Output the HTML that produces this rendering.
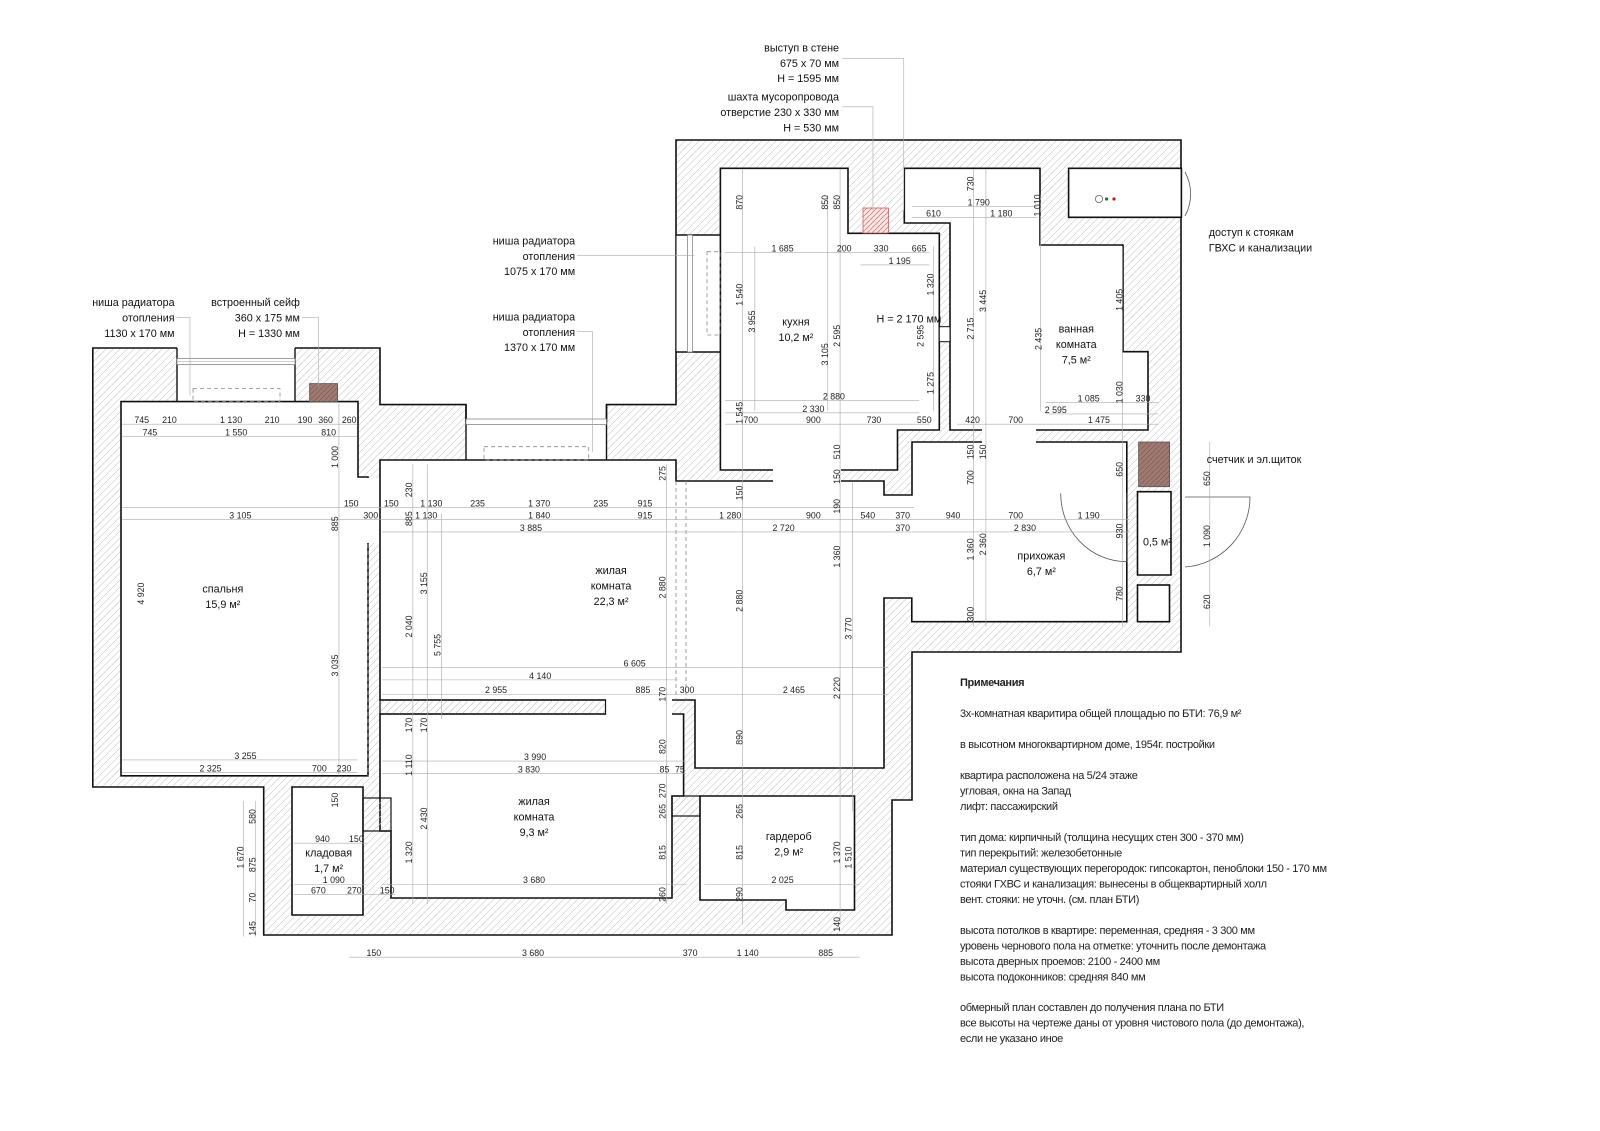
<!DOCTYPE html>
<html><head><meta charset="utf-8"><style>
html,body{margin:0;padding:0;background:#fff}
svg{display:block}
text{font-family:"Liberation Sans",sans-serif;fill:#222}
.d{font-size:8.6px;text-anchor:middle;fill:#333}
.r{font-size:10.5px;text-anchor:middle;fill:#111}
.n{font-size:11px;fill:#111;letter-spacing:-0.35px}
.l{font-size:10.5px;fill:#111;text-anchor:end}
.dl{stroke:#aaa;stroke-width:0.6;fill:none}
</style></head><body>
<svg width="1600" height="1131" viewBox="0 0 1600 1131" xmlns="http://www.w3.org/2000/svg">
<defs>
<pattern id="h" width="7" height="7" patternUnits="userSpaceOnUse">
<path d="M-1,8 L8,-1 M-1,1 L1,-1 M6,8 L8,6" stroke="#c8c8c8" stroke-width="0.6"/>
</pattern>
<pattern id="hr" width="5" height="5" patternUnits="userSpaceOnUse">
<rect width="5" height="5" fill="#f6e6e6"/>
<path d="M-1,6 L6,-1" stroke="#d46a6a" stroke-width="0.7"/>
</pattern>
<pattern id="hb" width="5" height="5" patternUnits="userSpaceOnUse">
<rect width="5" height="5" fill="#a07a72"/>
<path d="M-1,6 L6,-1" stroke="#7a5a52" stroke-width="0.7"/>
</pattern>
</defs>

<!-- outer walls -->
<polygon points="92.8,348 380,348 380,404.6 466,404.6 466,421 606.5,421 606.5,404.6 676,404.6 676,140 1181,140 1181,652 912,652 912,800 892,800 892,935 263.7,935 263.7,787 92.8,787" fill="url(#h)" stroke="#111" stroke-width="1.6"/>

<!-- window openings -->
<rect x="177" y="347" width="118" height="56" fill="#fff"/>
<line x1="177" y1="348" x2="177" y2="402" stroke="#111" stroke-width="1.4"/>
<line x1="295" y1="348" x2="295" y2="402" stroke="#111" stroke-width="1.4"/>
<rect x="177" y="358.5" width="118" height="6" fill="#fff" stroke="#777" stroke-width="0.7"/>
<line x1="177" y1="361.5" x2="295" y2="361.5" stroke="#999" stroke-width="0.5"/>
<rect x="466" y="420" width="140.5" height="41" fill="#fff"/>
<line x1="466" y1="404.6" x2="466" y2="460" stroke="#111" stroke-width="1.4"/>
<line x1="606.5" y1="404.6" x2="606.5" y2="460" stroke="#111" stroke-width="1.4"/>
<rect x="466" y="419" width="140.5" height="5.5" fill="#fff" stroke="#777" stroke-width="0.7"/>
<rect x="676.5" y="235" width="44" height="117" fill="#fff"/>
<line x1="676" y1="235" x2="720" y2="235" stroke="#111" stroke-width="1.4"/>
<line x1="676" y1="352" x2="720" y2="352" stroke="#111" stroke-width="1.4"/>
<rect x="687.5" y="235" width="5" height="117" fill="#fff" stroke="#777" stroke-width="0.7"/>

<!-- rooms -->
<g fill="#fff" stroke="#111" stroke-width="1.6">
<polygon points="121,401.6 177,401.6 177,401.6 295,401.6 358,401.6 358,477 368,477 368,544 368,544 368,775.8 121,775.8"/>
<polygon points="380,460 676,460 676,481 884,481 884,495 912,495 912,442 1126.8,442 1126.8,621.7 911.8,621.7 911.8,598 884,598 884,768 695,768 695,700 380,700"/>
<polygon points="380,714 683.6,714 683.6,796 672,796 672,898 391,898 391,831 380,831"/>
<polygon points="292,787 363,787 363,897 363,915 292,915"/>
<polygon points="700,796 854.5,796 854.5,910 786,910 786,900 700,900"/>
<polygon points="720.4,168.3 848,168.3 848,233.3 939.3,233.3 939.3,430 897.5,430 897.5,470 720.4,470"/>
<polygon points="904.3,168.3 1040,168.3 1040,245 1123,245 1123,351.7 1148,351.7 1148,430 950,430 950,223 904.3,223"/>
<polygon points="1068.6,168.3 1181.4,168.3 1181.4,217.3 1068.6,217.3"/>
<polygon points="1137.5,491.7 1171,491.7 1171,575 1137.5,575"/>
<rect x="1137.5" y="585" width="32" height="36.7"/>
</g>
<!-- fixups: openings -->
<rect x="359" y="478" width="20" height="65" fill="#fff"/>
<rect x="773" y="469" width="68" height="13" fill="#fff"/>
<rect x="982" y="429" width="54" height="14" fill="#fff"/>
<rect x="885" y="496" width="26" height="101" fill="#fff"/>
<rect x="606" y="699" width="66" height="16" fill="#fff"/>
<rect x="380" y="700" width="225.5" height="14" fill="url(#h)" stroke="#111" stroke-width="1.2"/>
<rect x="363" y="798" width="28" height="33" fill="url(#h)" stroke="#111" stroke-width="1.2"/>
<rect x="672" y="796" width="28" height="20" fill="url(#h)" stroke="#111" stroke-width="1.2"/>
<rect x="939.3" y="326.7" width="10.7" height="15" fill="#fff" stroke="#111" stroke-width="1"/>
<rect x="863" y="208" width="25.6" height="25" fill="url(#hr)" stroke="#c66" stroke-width="0.8"/>
<rect x="309.6" y="383.6" width="28" height="18" fill="url(#hb)" stroke="#555" stroke-width="0.8"/>
<rect x="1138.6" y="442" width="31" height="44.7" fill="url(#hb)" stroke="#555" stroke-width="0.8"/>

<!-- dashed radiator niches -->
<g fill="none" stroke="#888" stroke-width="0.8" stroke-dasharray="4,3">
<rect x="193" y="388.6" width="87" height="13"/>
<rect x="484" y="446.7" width="104.7" height="13.3"/>
<rect x="707" y="251.7" width="13" height="83.3"/>
<line x1="368" y1="544" x2="368" y2="776"/>
<line x1="676" y1="481" x2="676" y2="700"/>
<line x1="686" y1="481" x2="686" y2="700"/>
</g>
<!-- fixtures -->
<circle cx="1099" cy="199" r="3.6" fill="#fff" stroke="#666" stroke-width="0.8"/>
<circle cx="1106.6" cy="199" r="1.6" fill="#2a6a3a"/>
<circle cx="1114" cy="199" r="1.6" fill="#b02020"/>
<g fill="none" stroke="#555" stroke-width="0.8">
<path d="M1060.7,493.3 A66,68 0 0 0 1126.8,561.7"/>
<path d="M1185,497 L1250,497 A70,70 0 0 1 1185,567"/>
<path d="M1185,172 A46,46 0 0 1 1185,216"/>
<line x1="1126.8" y1="493" x2="1126.8" y2="562"/>
</g>

<!-- annotations in perceived coords -->
<g transform="scale(1.027)">
<g class="dl">
<path d="M119,413 H348 M119,425 H348 M119,494 H890 M119,506 H890 M372,518 H660 M660,518 H865 M372,650 H865 M372,662 H660 M372,676 H865 M119,740 H348 M119,752 H348 M372,741 H668 M372,753 H668 M372,861 H668 M686,861 H837 M286,821 H357 M286,861 H357 M286,871 H385 M340,932 H837 M706,246 H905 M838,258 H905 M706,390 H895 M706,402 H895 M706,413 H905 M888,201 H1010 M888,212 H1010 M1018,392 H1128 M1018,403 H1128 M932,413 H1128 M865,506 H1100 M865,518 H1100"/>
<path d="M330,393 V755 M402,452 V880 M416,452 V880 M430,500 V700 M649,452 V880 M723,470 V900 M723,165 V470 M735,240 V400 M818,165 V900 M806,190 V400 M830,470 V790 M909,240 V400 M948,165 V610 M960,165 V610 M1013,190 V400 M1093,240 V610 M1178,430 V610 M249,780 V912 M237,780 V912"/>
<path d="M820,57 H880 V205 M820,104 H850 V205 M562,249 H676 M562,323 H577 V440 M172,309 H185 V385 M294,309 H310 V377"/>
</g>

<text class="l" x="817" y="50">выступ в стене</text>
<text class="l" x="817" y="65">675 x 70 мм</text>
<text class="l" x="817" y="80">H = 1595 мм</text>
<text class="l" x="817" y="98">шахта мусоропровода</text>
<text class="l" x="817" y="113">отверстие 230 x 330 мм</text>
<text class="l" x="817" y="128">H = 530 мм</text>
<text class="l" x="560" y="238">ниша радиатора</text>
<text class="l" x="560" y="253">отопления</text>
<text class="l" x="560" y="268">1075 x 170 мм</text>
<text class="l" x="560" y="312">ниша радиатора</text>
<text class="l" x="560" y="327">отопления</text>
<text class="l" x="560" y="342">1370 x 170 мм</text>
<text class="l" x="170" y="298">ниша радиатора</text>
<text class="l" x="170" y="313">отопления</text>
<text class="l" x="170" y="328">1130 x 170 мм</text>
<text class="l" x="292" y="298">встроенный сейф</text>
<text class="l" x="292" y="313">360 x 175 мм</text>
<text class="l" x="292" y="328">H = 1330 мм</text>
<text class="l" x="1177" y="230" style="text-anchor:start">доступ к стоякам</text>
<text class="l" x="1177" y="245" style="text-anchor:start">ГВХС и канализации</text>
<text class="l" x="1175" y="451" style="text-anchor:start">счетчик и эл.щиток</text>

<text class="r" x="217" y="577">спальня</text><text class="r" x="217" y="592">15,9 м²</text>
<text class="r" x="595" y="559">жилая</text><text class="r" x="595" y="574">комната</text><text class="r" x="595" y="589">22,3 м²</text>
<text class="r" x="775" y="317">кухня</text><text class="r" x="775" y="332">10,2 м²</text>
<text class="r" x="885" y="314">H = 2 170 мм</text>
<text class="r" x="1048" y="324">ванная</text><text class="r" x="1048" y="339">комната</text><text class="r" x="1048" y="354">7,5 м²</text>
<text class="r" x="1014" y="545">прихожая</text><text class="r" x="1014" y="560">6,7 м²</text>
<text class="r" x="1127" y="531">0,5 м²</text>
<text class="r" x="520" y="784">жилая</text><text class="r" x="520" y="799">комната</text><text class="r" x="520" y="814">9,3 м²</text>
<text class="r" x="320" y="834">кладовая</text><text class="r" x="320" y="849">1,7 м²</text>
<text class="r" x="768" y="818">гардероб</text><text class="r" x="768" y="833">2,9 м²</text>

<g class="d">
<text x="138" y="412">745</text><text x="165" y="412">210</text><text x="225" y="412">1 130</text><text x="265" y="412">210</text><text x="297" y="412">190</text><text x="317" y="412">360</text><text x="340" y="412">260</text>
<text x="146" y="424">745</text><text x="230" y="424">1 550</text><text x="320" y="424">810</text>
<text x="342" y="493">150</text><text x="381" y="493">150</text><text x="234" y="505">3 105</text><text x="361" y="505">300</text>
<text x="239" y="739">3 255</text><text x="205" y="751">2 325</text><text x="311" y="751">700</text><text x="335" y="751">230</text>
<text x="420" y="493">1 130</text><text x="465" y="493">235</text><text x="525" y="493">1 370</text><text x="585" y="493">235</text><text x="628" y="493">915</text>
<text x="415" y="505">1 130</text><text x="525" y="505">1 840</text><text x="628" y="505">915</text><text x="517" y="517">3 885</text>
<text x="618" y="649">6 605</text><text x="526" y="661">4 140</text><text x="483" y="675">2 955</text><text x="626" y="675">885</text><text x="669" y="675">300</text>
<text x="711" y="505">1 280</text><text x="792" y="505">900</text><text x="845" y="505">540</text><text x="763" y="517">2 720</text><text x="773" y="675">2 465</text>
<text x="762" y="245">1 685</text><text x="822" y="245">200</text><text x="858" y="245">330</text><text x="895" y="245">665</text><text x="876" y="257">1 195</text>
<text x="812" y="389">2 880</text><text x="792" y="401">2 330</text><text x="731" y="412">700</text><text x="792" y="412">900</text><text x="851" y="412">730</text><text x="900" y="412">550</text>
<text x="953" y="200">1 790</text><text x="909" y="211">610</text><text x="975" y="211">1 180</text>
<text x="1060" y="391">1 085</text><text x="1113" y="391">330</text><text x="1028" y="402">2 595</text><text x="947" y="412">420</text><text x="989" y="412">700</text><text x="1070" y="412">1 475</text>
<text x="879" y="505">370</text><text x="879" y="517">370</text><text x="928" y="505">940</text><text x="989" y="505">700</text><text x="1060" y="505">1 190</text><text x="998" y="517">2 830</text>
<text x="521" y="740">3 990</text><text x="515" y="752">3 830</text><text x="647" y="752">85</text><text x="662" y="752">75</text><text x="520" y="860">3 680</text>
<text x="314" y="820">940</text><text x="347" y="820">150</text><text x="325" y="860">1 090</text><text x="310" y="870">670</text><text x="345" y="870">270</text><text x="377" y="870">150</text>
<text x="762" y="860">2 025</text>
<text x="364" y="931">150</text><text x="519" y="931">3 680</text><text x="672" y="931">370</text><text x="728" y="931">1 140</text><text x="804" y="931">885</text>
</g>
<g class="d">
<text transform="translate(329,445) rotate(-90)">1 000</text>
<text transform="translate(329,510) rotate(-90)">885</text>
<text transform="translate(140,578) rotate(-90)">4 920</text>
<text transform="translate(329,648) rotate(-90)">3 035</text>
<text transform="translate(401,477) rotate(-90)">230</text>
<text transform="translate(401,505) rotate(-90)">885</text>
<text transform="translate(416,568) rotate(-90)">3 155</text>
<text transform="translate(401,610) rotate(-90)">2 040</text>
<text transform="translate(429,628) rotate(-90)">5 755</text>
<text transform="translate(648,461) rotate(-90)">275</text>
<text transform="translate(648,572) rotate(-90)">2 880</text>
<text transform="translate(648,676) rotate(-90)">170</text>
<text transform="translate(723,480) rotate(-90)">150</text>
<text transform="translate(723,585) rotate(-90)">2 880</text>
<text transform="translate(818,493) rotate(-90)">190</text>
<text transform="translate(818,542) rotate(-90)">1 360</text>
<text transform="translate(829,612) rotate(-90)">3 770</text>
<text transform="translate(818,670) rotate(-90)">2 220</text>
<text transform="translate(723,718) rotate(-90)">890</text>
<text transform="translate(723,197) rotate(-90)">870</text>
<text transform="translate(806,197) rotate(-90)">850</text>
<text transform="translate(818,197) rotate(-90)">850</text>
<text transform="translate(909,277) rotate(-90)">1 320</text>
<text transform="translate(723,287) rotate(-90)">1 540</text>
<text transform="translate(735,313) rotate(-90)">3 955</text>
<text transform="translate(818,327) rotate(-90)">2 595</text>
<text transform="translate(806,345) rotate(-90)">3 105</text>
<text transform="translate(899,327) rotate(-90)">2 595</text>
<text transform="translate(909,373) rotate(-90)">1 275</text>
<text transform="translate(723,402) rotate(-90)">1 545</text>
<text transform="translate(818,440) rotate(-90)">510</text>
<text transform="translate(818,464) rotate(-90)">150</text>
<text transform="translate(948,179) rotate(-90)">730</text>
<text transform="translate(1013,200) rotate(-90)">1 010</text>
<text transform="translate(960,293) rotate(-90)">3 445</text>
<text transform="translate(948,320) rotate(-90)">2 715</text>
<text transform="translate(1014,330) rotate(-90)">2 435</text>
<text transform="translate(1093,292) rotate(-90)">1 405</text>
<text transform="translate(1093,382) rotate(-90)">1 030</text>
<text transform="translate(948,440) rotate(-90)">150</text>
<text transform="translate(960,440) rotate(-90)">150</text>
<text transform="translate(948,465) rotate(-90)">700</text>
<text transform="translate(1093,457) rotate(-90)">650</text>
<text transform="translate(1093,517) rotate(-90)">930</text>
<text transform="translate(948,535) rotate(-90)">1 360</text>
<text transform="translate(960,530) rotate(-90)">2 360</text>
<text transform="translate(948,598) rotate(-90)">300</text>
<text transform="translate(1093,578) rotate(-90)">780</text>
<text transform="translate(1178,466) rotate(-90)">650</text>
<text transform="translate(1178,522) rotate(-90)">1 090</text>
<text transform="translate(1178,586) rotate(-90)">620</text>
<text transform="translate(401,706) rotate(-90)">170</text>
<text transform="translate(416,706) rotate(-90)">170</text>
<text transform="translate(648,727) rotate(-90)">820</text>
<text transform="translate(401,745) rotate(-90)">1 110</text>
<text transform="translate(648,770) rotate(-90)">270</text>
<text transform="translate(648,790) rotate(-90)">265</text>
<text transform="translate(416,797) rotate(-90)">2 430</text>
<text transform="translate(401,830) rotate(-90)">1 320</text>
<text transform="translate(648,830) rotate(-90)">815</text>
<text transform="translate(648,871) rotate(-90)">260</text>
<text transform="translate(329,779) rotate(-90)">150</text>
<text transform="translate(249,795) rotate(-90)">580</text>
<text transform="translate(237,835) rotate(-90)">1 670</text>
<text transform="translate(249,842) rotate(-90)">875</text>
<text transform="translate(249,874) rotate(-90)">70</text>
<text transform="translate(249,904) rotate(-90)">145</text>
<text transform="translate(723,790) rotate(-90)">265</text>
<text transform="translate(723,830) rotate(-90)">815</text>
<text transform="translate(818,830) rotate(-90)">1 370</text>
<text transform="translate(829,835) rotate(-90)">1 510</text>
<text transform="translate(723,871) rotate(-90)">290</text>
<text transform="translate(818,900) rotate(-90)">140</text>
</g>
</g>

<!-- notes (real coords) -->
<g class="n">
<text x="960" y="686" style="font-weight:bold">Примечания</text>
<text x="960" y="717">3х-комнатная кваритира общей площадью по БТИ: 76,9 м²</text>
<text x="960" y="748">в высотном многоквартирном доме, 1954г. постройки</text>
<text x="960" y="779">квартира расположена на 5/24 этаже</text>
<text x="960" y="794.5">угловая, окна на Запад</text>
<text x="960" y="810">лифт: пассажирский</text>
<text x="960" y="841">тип дома: кирпичный (толщина несущих стен 300 - 370 мм)</text>
<text x="960" y="856.5">тип перекрытий: железобетонные</text>
<text x="960" y="872">материал существующих перегородок: гипсокартон, пеноблоки 150 - 170 мм</text>
<text x="960" y="887.5">стояки ГХВС и канализация: вынесены в общеквартирный холл</text>
<text x="960" y="903">вент. стояки: не уточн. (см. план БТИ)</text>
<text x="960" y="934">высота потолков в квартире: переменная, средняя - 3 300 мм</text>
<text x="960" y="949.5">уровень чернового пола на отметке:  уточнить после демонтажа</text>
<text x="960" y="965">высота дверных проемов: 2100 - 2400 мм</text>
<text x="960" y="980.5">высота подоконников: средняя 840 мм</text>
<text x="960" y="1011">обмерный план составлен до получения плана по БТИ</text>
<text x="960" y="1026.5">все высоты на чертеже даны от уровня чистового пола (до демонтажа),</text>
<text x="960" y="1042">если не указано иное</text>
</g>
</svg>
</body></html>
